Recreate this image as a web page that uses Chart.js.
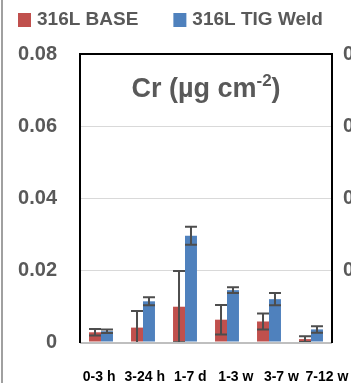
<!DOCTYPE html>
<html>
<head>
<meta charset="utf-8">
<script src="https://cdn.jsdelivr.net/npm/chart.js@4.4.1/dist/chart.umd.min.js"></script>
<style>
  html, body { margin: 0; padding: 0; background: #fff; }
  #wrap { width: 351px; height: 383px; }
</style>
</head>
<body>
<div id="wrap"><canvas id="chartCr"></canvas></div>
<script>
const categories = ["0-3 h", "3-24 h", "1-7 d", "1-3 w", "3-7 w", "7-12 w"];
const seriesNames = ["316L BASE", "316L TIG Weld"];
const baseValues = [0.0027, 0.0040, 0.0098, 0.0062, 0.0057, 0.0008];
const baseErrors = [0.0009, 0.0046, 0.0099, 0.0041, 0.0022, 0.0008];
const weldValues = [0.0030, 0.0113, 0.0295, 0.0144, 0.0119, 0.0035];
const weldErrors = [0.0005, 0.0011, 0.0025, 0.0008, 0.0017, 0.0009];
const yTicks = [0, 0.02, 0.04, 0.06, 0.08];

const FONT = "'Liberation Sans', Arial, sans-serif";
const GREY = "#595959";
Chart.defaults.font.family = FONT;

// error bars, black box, title, legend, and bits of the neighbour panels
const extras = {
  id: "extras",
  afterDatasetsDraw(chart) {
    const ctx = chart.ctx, y = chart.scales.y, a = chart.chartArea;
    const errs = [baseErrors, weldErrors];
    ctx.save();
    ctx.beginPath();
    ctx.rect(a.left, a.top, a.right - a.left, a.bottom - a.top);
    ctx.clip();
    ctx.strokeStyle = "#4D4D4D";
    ctx.lineWidth = 2;
    errs.forEach((e, d) => {
      const meta = chart.getDatasetMeta(d);
      meta.data.forEach((bar, i) => {
        const v = chart.data.datasets[d].data[i];
        const top = y.getPixelForValue(v + e[i]);
        const bot = y.getPixelForValue(v - e[i]);
        const half = bar.width / 2;
        ctx.beginPath();
        ctx.moveTo(bar.x, top); ctx.lineTo(bar.x, bot);
        ctx.moveTo(bar.x - half, top); ctx.lineTo(bar.x + half, top);
        ctx.moveTo(bar.x - half, bot); ctx.lineTo(bar.x + half, bot);
        ctx.stroke();
      });
    });
    ctx.restore();
  },
  afterDraw(chart) {
    const ctx = chart.ctx, a = chart.chartArea, y = chart.scales.y;
    ctx.save();

    // bottom axis line
    ctx.strokeStyle = "#BFBFBF";
    ctx.lineWidth = 2;
    ctx.beginPath();
    ctx.moveTo(a.left, a.bottom + 1); ctx.lineTo(a.right, a.bottom + 1);
    ctx.stroke();

    // black plot box (top, left, right)
    ctx.strokeStyle = "#000";
    ctx.lineWidth = 2;
    ctx.beginPath();
    ctx.moveTo(a.left, a.bottom + 1);
    ctx.lineTo(a.left, a.top);
    ctx.lineTo(a.right, a.top);
    ctx.lineTo(a.right, a.bottom + 1);
    ctx.stroke();

    // title inside plot
    const cx = (a.left + a.right) / 2, by = a.top + 43;
    const p1 = "Cr (\u00b5g cm", p2 = "-2", p3 = ")";
    ctx.fillStyle = GREY;
    ctx.textBaseline = "alphabetic";
    ctx.textAlign = "left";
    ctx.font = "bold 27px " + FONT;
    const w1 = ctx.measureText(p1).width, w3 = ctx.measureText(p3).width;
    ctx.font = "bold 17px " + FONT;
    const w2 = ctx.measureText(p2).width;
    const x = cx - (w1 + w2 + w3) / 2;
    ctx.font = "bold 27px " + FONT;
    ctx.fillText(p1, x, by);
    ctx.font = "bold 17px " + FONT;
    ctx.fillText(p2, x + w1, by - 11);
    ctx.font = "bold 27px " + FONT;
    ctx.fillText(p3, x + w1 + w2, by);

    // legend
    ctx.font = "bold 19px " + FONT;
    ctx.textBaseline = "middle";
    let lx = 18;
    chart.data.datasets.forEach(ds => {
      ctx.fillStyle = ds.backgroundColor;
      ctx.fillRect(lx, 13, 13, 14);
      ctx.fillStyle = GREY;
      ctx.fillText(ds.label, lx + 19, 20);
      lx += 19 + ctx.measureText(ds.label).width + 35;
    });

    // clipped tick labels of the next panel on the right
    ctx.font = "bold 20px " + FONT;
    ctx.fillStyle = GREY;
    yTicks.filter(v => v > 0).forEach(v => {
      ctx.fillText(v.toFixed(2), 343, y.getPixelForValue(v));
    });

    // edge of the previous panel on the left
    ctx.strokeStyle = "#A0A0A0";
    ctx.lineWidth = 2;
    ctx.beginPath();
    ctx.moveTo(2, 0); ctx.lineTo(2, 383);
    ctx.stroke();
    ctx.restore();
  }
};

const chartCr = new Chart("chartCr", {
  type: "bar",
  data: {
    labels: categories,
    datasets: [
      {
        label: seriesNames[0],
        data: baseValues,
        backgroundColor: "#C0504D",
        borderWidth: 0,
        categoryPercentage: 0.57,
        barPercentage: 1.0,
      },
      {
        label: seriesNames[1],
        data: weldValues,
        backgroundColor: "#4F81BD",
        borderWidth: 0,
        categoryPercentage: 0.57,
        barPercentage: 1.0,
      },
    ],
  },
  options: {
    responsive: true,
    maintainAspectRatio: false,
    animation: false,
    layout: { padding: { top: 54, right: 19, left: 0, bottom: 0 } },
    plugins: {
      legend: { display: false },
      tooltip: { enabled: false },
    },
    scales: {
      x: {
        display: false,
      },
      // category labels sit on their own, slightly wider spacing
      xl: {
        type: "linear",
        position: "bottom",
        bounds: "data",
        min: -0.42,
        max: 5.11,
        offset: false,
        grid: { display: false, drawTicks: false, offset: false },
        border: { display: false },
        afterBuildTicks(s) { s.ticks = categories.map((c, i) => ({ value: i })); },
        afterFit(s) { s.height = 41; s.paddingLeft = 0; s.paddingRight = 0; },
        ticks: {
          padding: 27,
          autoSkip: false,
          includeBounds: false,
          maxRotation: 0,
          color: "#000",
          font: { size: 14, weight: "bold" },
          callback: v => categories[v],
        },
      },
      y: {
        min: 0,
        max: 0.08,
        afterFit(s) { s.width = 80; },
        afterBuildTicks(s) { s.ticks = yTicks.map(v => ({ value: v })); },
        grid: { color: "#D9D9D9", lineWidth: 1, drawTicks: false },
        border: { display: false },
        ticks: {
          padding: 23,
          color: GREY,
          font: { size: 20, weight: "bold" },
          callback: v => (v === 0 ? "0" : v.toFixed(2)),
        },
      },
    },
  },
  plugins: [extras],
});
</script>
</body>
</html>
